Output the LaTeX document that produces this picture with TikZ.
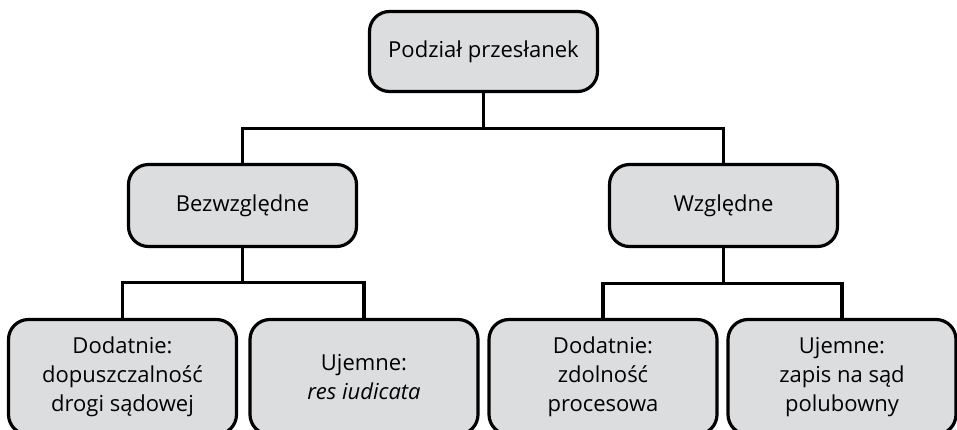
\documentclass[tikz,border=0pt]{standalone}
\usepackage{fontspec}
\setmainfont{Open Sans}
\usetikzlibrary{calc}

\tikzset{
    box/.style={draw, line width=3.2pt, rounded corners=20pt, fill=boxgray,
        minimum width=228pt, align=center, font=\fontsize{22}{29}\selectfont},
    conn/.style={line width=3.2pt}
}
\definecolor{boxgray}{HTML}{DCDDDF}

\begin{document}
\begin{tikzpicture}[x=1pt, y=-1pt]
    \useasboundingbox (0,0) rectangle (957,429);
    \clip (0,0) rectangle (957,429);

    % Root
    \node[box, minimum height=80pt] (root) at (483.5,51.5) {Podział przesłanek};

    % Second level
    \node[box, minimum height=82pt] (bez) at (242.5,205.5) {Bezwzględne};
    \node[box, minimum height=82pt] (wzg) at (723.5,205.5) {Względne};

    % Third level
    \node[box, minimum height=115pt] (bezdod) at (122.5,377) {Dodatnie:\\dopuszczalność\\drogi sądowej};
    \node[box, minimum height=115pt] (bezuj) at (364,377) {Ujemne:\\\textit{res iudicata}};
    \node[box, minimum height=115pt] (wzgdod) at (603,377) {Dodatnie:\\zdolność\\procesowa};
    \node[box, minimum height=115pt] (wzguj) at (842,377) {Ujemne:\\zapis na sąd\\polubowny};

    % Connectors
    \draw[conn] (root.south) -- ++(0,35) -| (bez.north);
    \draw[conn] (root.south) -- ++(0,35) -| (wzg.north);
    \draw[conn] (bez.south) -- ++(0,34) -| (bezdod.north);
    \draw[conn] (bez.south) -- ++(0,34) -| (bezuj.north);
    \draw[conn] (wzg.south) -- ++(0,35) -| (wzgdod.north);
    \draw[conn] (wzg.south) -- ++(0,35) -| (wzguj.north);
\end{tikzpicture}
\end{document}
